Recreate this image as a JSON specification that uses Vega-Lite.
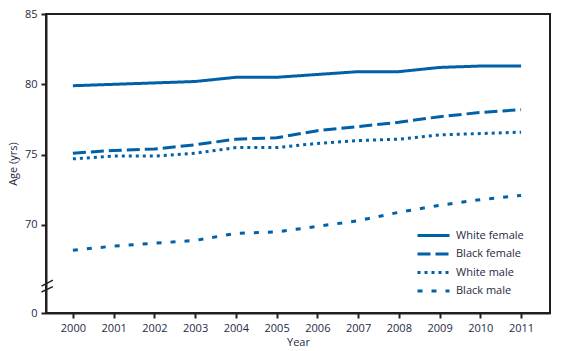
{
  "$schema": "https://vega.github.io/schema/vega-lite/v6.json",
  "width": 504,
  "height": 299,
  "autosize": "none",
  "padding": {"left": 46, "top": 14, "right": 20, "bottom": 38},
  "config": {
    "font": "Open Sans",
    "view": {"stroke": "#231f20", "strokeWidth": 2},
    "axis": {
      "domainColor": "#231f20", "domainWidth": 2, "tickColor": "#231f20", "tickWidth": 2,
      "tickSize": 5, "labelFontSize": 11, "labelColor": "#1f2a44", "titleFontSize": 11,
      "titleFontWeight": "normal", "titleColor": "#1f2a44", "grid": false
    }
  },
  "datasets": {
    "life": [
      {"year": 2000, "group": "White female", "age": 79.9},
      {"year": 2001, "group": "White female", "age": 80.0},
      {"year": 2002, "group": "White female", "age": 80.1},
      {"year": 2003, "group": "White female", "age": 80.2},
      {"year": 2004, "group": "White female", "age": 80.5},
      {"year": 2005, "group": "White female", "age": 80.5},
      {"year": 2006, "group": "White female", "age": 80.7},
      {"year": 2007, "group": "White female", "age": 80.9},
      {"year": 2008, "group": "White female", "age": 80.9},
      {"year": 2009, "group": "White female", "age": 81.2},
      {"year": 2010, "group": "White female", "age": 81.3},
      {"year": 2011, "group": "White female", "age": 81.3},
      {"year": 2000, "group": "Black female", "age": 75.1},
      {"year": 2001, "group": "Black female", "age": 75.3},
      {"year": 2002, "group": "Black female", "age": 75.4},
      {"year": 2003, "group": "Black female", "age": 75.7},
      {"year": 2004, "group": "Black female", "age": 76.1},
      {"year": 2005, "group": "Black female", "age": 76.2},
      {"year": 2006, "group": "Black female", "age": 76.7},
      {"year": 2007, "group": "Black female", "age": 77.0},
      {"year": 2008, "group": "Black female", "age": 77.3},
      {"year": 2009, "group": "Black female", "age": 77.7},
      {"year": 2010, "group": "Black female", "age": 78.0},
      {"year": 2011, "group": "Black female", "age": 78.2},
      {"year": 2000, "group": "White male", "age": 74.7},
      {"year": 2001, "group": "White male", "age": 74.9},
      {"year": 2002, "group": "White male", "age": 74.9},
      {"year": 2003, "group": "White male", "age": 75.1},
      {"year": 2004, "group": "White male", "age": 75.5},
      {"year": 2005, "group": "White male", "age": 75.5},
      {"year": 2006, "group": "White male", "age": 75.8},
      {"year": 2007, "group": "White male", "age": 76.0},
      {"year": 2008, "group": "White male", "age": 76.1},
      {"year": 2009, "group": "White male", "age": 76.4},
      {"year": 2010, "group": "White male", "age": 76.5},
      {"year": 2011, "group": "White male", "age": 76.6},
      {"year": 2000, "group": "Black male", "age": 68.2},
      {"year": 2001, "group": "Black male", "age": 68.5},
      {"year": 2002, "group": "Black male", "age": 68.7},
      {"year": 2003, "group": "Black male", "age": 68.9},
      {"year": 2004, "group": "Black male", "age": 69.4},
      {"year": 2005, "group": "Black male", "age": 69.5},
      {"year": 2006, "group": "Black male", "age": 69.9},
      {"year": 2007, "group": "Black male", "age": 70.3},
      {"year": 2008, "group": "Black male", "age": 70.9},
      {"year": 2009, "group": "Black male", "age": 71.4},
      {"year": 2010, "group": "Black male", "age": 71.8},
      {"year": 2011, "group": "Black male", "age": 72.1}
    ],
    "brk": [
      {"x1": 1999.23, "y1": 65.65, "x2": 1999.51, "y2": 66.08},
      {"x1": 1999.23, "y1": 65.23, "x2": 1999.51, "y2": 65.62}
    ]
  },
  "layer": [
    {
      "data": {"name": "life"},
      "mark": {"type": "line", "color": "#0061a8", "strokeWidth": 3},
      "encoding": {
        "x": {
          "field": "year", "type": "quantitative",
          "scale": {"domain": [1999.34, 2011.71], "nice": false, "zero": false},
          "axis": {"values": [2000,2001,2002,2003,2004,2005,2006,2007,2008,2009,2010,2011], "format": "d", "title": "Year", "labelPadding": 4, "titlePadding": 3}
        },
        "y": {
          "field": "age", "type": "quantitative",
          "scale": {"domain": [63.74, 85], "nice": false, "zero": false},
          "axis": {"values": [63.74, 70, 75, 80, 85], "labelExpr": "datum.value < 65 ? '0' : datum.label", "title": "Age (yrs)", "titlePadding": 6, "labelPadding": 4}
        },
        "strokeDash": {
          "field": "group", "type": "nominal",
          "scale": {"domain": ["White female", "Black female", "White male", "Black male"], "range": [[1, 0], [13, 5], [3, 4], [5, 9]]},
          "legend": {
            "title": null, "orient": "none", "legendX": 378, "legendY": 212,
            "symbolType": "M-2,0H2", "symbolSize": 256, "symbolStrokeWidth": 3,
            "symbolStrokeColor": "#0061a8", "symbolFillColor": "transparent", "labelFontSize": 11, "labelColor": "#1f2a44",
            "rowPadding": 2.5, "labelOffset": 13
          }
        }
      }
    },
    {
      "data": {"name": "brk"},
      "mark": {"type": "rule", "color": "#231f20", "strokeWidth": 1.5},
      "encoding": {
        "x": {"field": "x1", "type": "quantitative"},
        "y": {"field": "y1", "type": "quantitative"},
        "x2": {"field": "x2"},
        "y2": {"field": "y2"}
      }
    }
  ]
}
